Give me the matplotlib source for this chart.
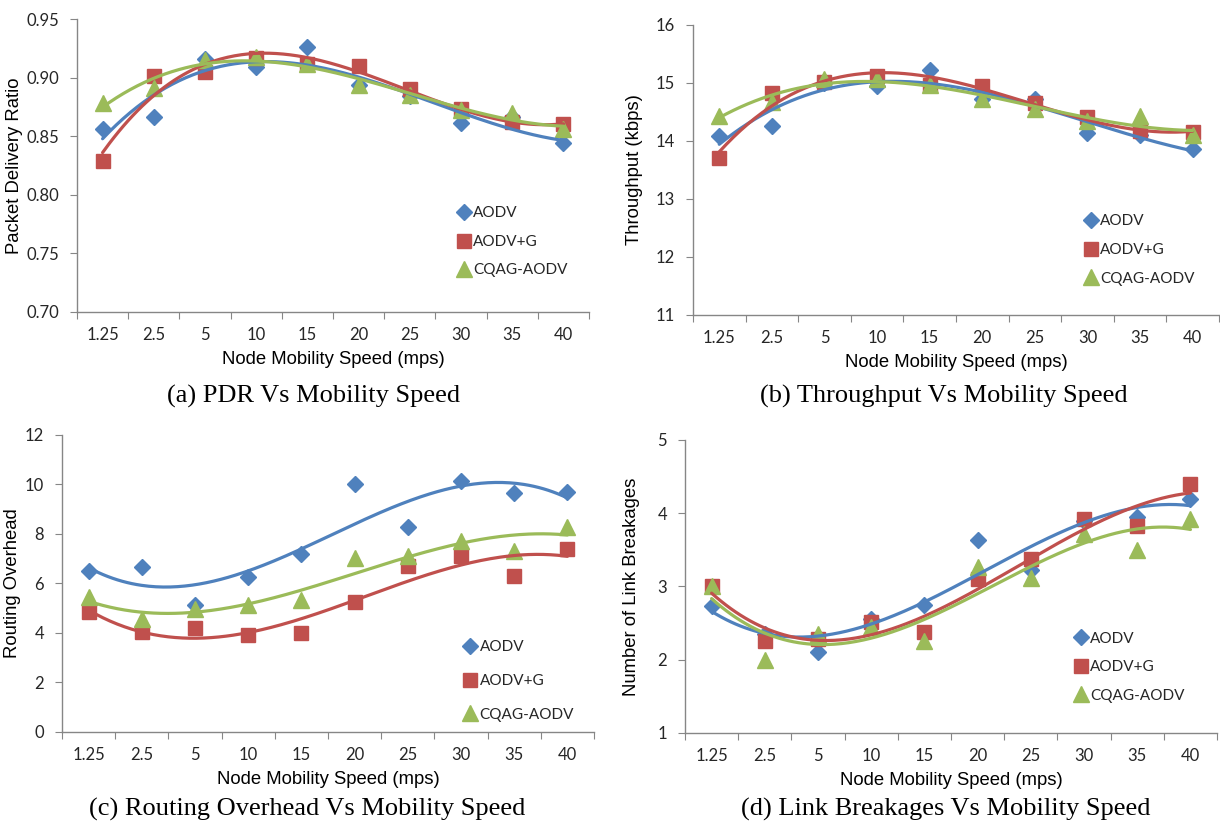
import numpy as np
import matplotlib
matplotlib.use('Agg')
import matplotlib.pyplot as plt
from matplotlib.ticker import FixedLocator, NullFormatter, FormatStrFormatter

speeds = ['1.25', '2.5', '5', '10', '15', '20', '25', '30', '35', '40']
series_names = ['AODV', 'AODV+G', 'CQAG-AODV']

# (a) packet delivery ratio
pdr_aodv = [0.856, 0.866, 0.916, 0.909, 0.926, 0.894, 0.884, 0.861, 0.866, 0.844]
pdr_aodvg = [0.829, 0.901, 0.905, 0.917, 0.912, 0.910, 0.890, 0.873, 0.862, 0.860]
pdr_cqag = [0.878, 0.891, 0.915, 0.918, 0.912, 0.894, 0.885, 0.872, 0.870, 0.856]

# (b) throughput (kbps)
thr_aodv = [14.08, 14.25, 15.00, 14.95, 15.22, 14.72, 14.73, 14.13, 14.10, 13.86]
thr_aodvg = [13.70, 14.82, 15.02, 15.12, 14.97, 14.95, 14.65, 14.42, 14.17, 14.15]
thr_cqag = [14.43, 14.68, 15.07, 15.07, 14.96, 14.72, 14.55, 14.35, 14.43, 14.10]

# (c) routing overhead
ro_aodv = [6.50, 6.65, 5.15, 6.28, 7.20, 10.02, 8.27, 10.15, 9.65, 9.70]
ro_aodvg = [4.85, 4.02, 4.22, 3.90, 3.98, 5.25, 6.70, 7.10, 6.32, 7.38]
ro_cqag = [5.45, 4.55, 4.95, 5.15, 5.35, 7.02, 7.10, 7.70, 7.30, 8.30]

# (d) link breakages
lb_aodv = [2.73, 2.35, 2.10, 2.55, 2.75, 3.63, 3.22, 3.90, 3.95, 4.20]
lb_aodvg = [3.00, 2.25, 2.28, 2.52, 2.38, 3.10, 3.37, 3.92, 3.82, 4.40]
lb_cqag = [3.00, 2.00, 2.35, 2.45, 2.25, 3.27, 3.12, 3.72, 3.50, 3.92]

colors = ['#4F81BD', '#C0504D', '#9BBB59']
markers = [('D', 8.5), ('s', 10.5), ('^', 11.5)]

TICK_FONT = 'Lato'
LABEL_FONT = 'Liberation Sans'
CAPTION_FONT = 'Liberation Serif'

panels = [
    # rect, data, ylim, yticks, fmt, ylabel, caption, legend anchor, labelspacing, ylabel x, caption xy
    ([0.0631, 0.6209, 0.4197, 0.3560], [pdr_aodv, pdr_aodvg, pdr_cqag], (0.70, 0.95),
     np.arange(0.70, 0.951, 0.05), '%.2f', 'Packet Delivery Ratio',
     '(a) PDR Vs Mobility Speed', (0.744, 0.239), 0.95, -0.106, (0.257, 0.5185)),
    ([0.5680, 0.6173, 0.4311, 0.3524], [thr_aodv, thr_aodvg, thr_cqag], (11, 16),
     np.arange(11, 16.1, 1), '%d', 'Throughput (kbps)',
     '(b) Throughput Vs Mobility Speed', (0.745, 0.224), 0.95, -0.095, (0.774, 0.5185)),
    ([0.0508, 0.1106, 0.4361, 0.3609], [ro_aodv, ro_aodvg, ro_cqag], (0, 12),
     np.arange(0, 12.1, 2), '%d', 'Routing Overhead',
     '(c) Routing Overhead Vs Mobility Speed', (0.756, 0.172), 1.3, -0.077, (0.252, 0.0165)),
    ([0.5615, 0.1094, 0.4361, 0.3560], [lb_aodv, lb_aodvg, lb_cqag], (1, 5),
     np.arange(1, 5.1, 1), '%d', 'Number of Link Breakages',
     '(d) Link Breakages Vs Mobility Speed', (0.733, 0.225), 0.95, -0.085, (0.775, 0.0165)),
]

fig = plt.figure(figsize=(12.2, 8.23), dpi=100)

x = np.arange(1, len(speeds) + 1)
xfine = np.linspace(1, len(speeds), 200)

for rect, data, ylim, yticks, fmt, ylabel, caption, leg_pos, lspace, ylx, cap_xy in panels:
    ax = fig.add_axes(rect)
    for vals, name, c, (m, ms) in zip(data, series_names, colors, markers):
        ax.plot(x, vals, linestyle='none', marker=m, markersize=ms, color=c,
                markeredgecolor=c, label=name, zorder=3)
        # polynomial trendline, order 3, like the spreadsheet one
        coef = np.polyfit(x, vals, 3)
        ax.plot(xfine, np.polyval(coef, xfine), color=c, lw=2.3, zorder=4,
                solid_capstyle='round')

    ax.set_xlim(0.5, len(speeds) + 0.5)
    ax.set_ylim(*ylim)
    ax.set_yticks(yticks)
    ax.yaxis.set_major_formatter(FormatStrFormatter(fmt))

    # category boundaries carry the tick marks, centres carry the labels
    ax.xaxis.set_major_locator(FixedLocator(np.arange(0.5, len(speeds) + 1, 1)))
    ax.xaxis.set_major_formatter(NullFormatter())
    ax.xaxis.set_minor_locator(FixedLocator(x))
    ax.set_xticklabels(speeds, minor=True)
    ax.tick_params(axis='x', which='major', direction='out', length=5, color='#868686')
    ax.tick_params(axis='x', which='minor', length=0, pad=11, labelsize=12,
                   labelcolor='#262626')
    ax.tick_params(axis='y', direction='out', length=5, color='#868686', pad=8,
                   labelsize=12, labelcolor='#262626')
    for lab in ax.get_xticklabels(minor=True) + ax.get_yticklabels():
        lab.set_family(TICK_FONT)

    for side in ['top', 'right']:
        ax.spines[side].set_visible(False)
    for side in ['left', 'bottom']:
        ax.spines[side].set_color('#868686')
        ax.spines[side].set_linewidth(1.0)

    ax.set_ylabel(ylabel, family=LABEL_FONT, fontsize=13.3)
    ax.yaxis.set_label_coords(ylx, 0.5)
    ax.set_xlabel('Node Mobility Speed (mps)', family=LABEL_FONT, fontsize=13.3)
    ax.xaxis.set_label_coords(0.5, -0.133)

    leg = ax.legend(loc='center left', bbox_to_anchor=leg_pos, frameon=False,
                    handlelength=0.8, handletextpad=0.2, labelspacing=lspace,
                    borderpad=0, borderaxespad=0,
                    prop={'family': TICK_FONT, 'size': 11})
    for t in leg.get_texts():
        t.set_color('#262626')

    fig.text(cap_xy[0], cap_xy[1], caption, family=CAPTION_FONT, fontsize=19,
             ha='center', va='center')

fig.savefig('out.png', dpi=100)
